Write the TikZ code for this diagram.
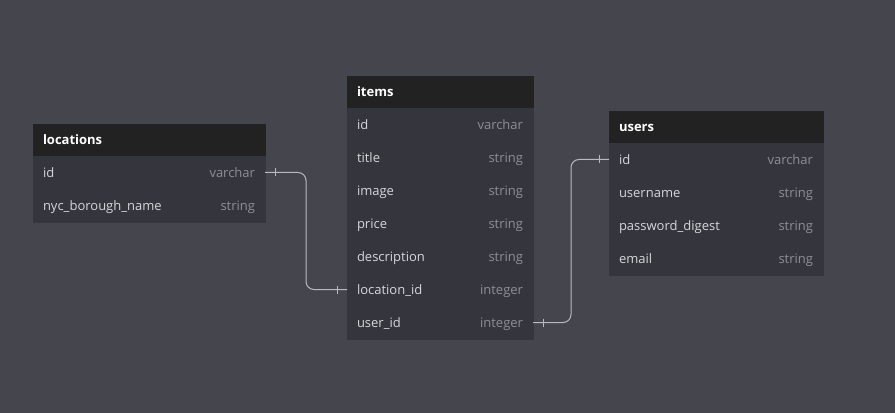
\documentclass[tikz,border=0pt]{standalone}
\usepackage{fontspec}
\setmainfont{Open Sans}
\usepackage{tikz}
\usetikzlibrary{positioning}
\definecolor{Canvas}{RGB}{69,69,77}
\definecolor{HeadFill}{RGB}{34,34,34}
\definecolor{BodyFill}{RGB}{53,53,61}
\definecolor{FieldText}{RGB}{214,214,218}
\definecolor{TypeText}{RGB}{142,142,148}
\definecolor{LinkGray}{RGB}{185,185,190}
\newcommand{\colname}[1]{\textcolor{FieldText}{#1}}
\newcommand{\coltype}[1]{\textcolor{TypeText}{#1}}

\begin{document}
\begin{tikzpicture}[
 x=0.75pt, y=-0.75pt,
 head/.style={anchor=north west, fill=HeadFill, draw=HeadFill, line width=0.3pt, outer sep=0pt, text=white, font=\bfseries\fontsize{9.75}{12}\selectfont, minimum height=24pt, inner sep=0pt, inner xsep=7.5pt, text width=#1, text height=8.5pt, text depth=1.5pt, align=left},
 row/.style={fill=BodyFill, draw=BodyFill, line width=0.3pt, outer sep=0pt, minimum height=24.75pt, inner sep=0pt, inner xsep=7.5pt, text width=#1, text height=8.5pt, text depth=1.5pt, font=\fontsize{9.75}{12}\selectfont},
 link/.style={draw=LinkGray, line width=0.75pt, rounded corners=6pt}
]
\fill[Canvas] (0,0) rectangle (895,413);

% locations
\node[head=159pt] (loc) at (33,124) {locations};
\node[row=159pt, below=0pt of loc] (loc-id) {\colname{id}\hfill\coltype{varchar}};
\node[row=159pt, below=0pt of loc-id] (loc-name) {\colname{nyc\_borough\_name}\hfill\coltype{string}};

% items
\node[head=124.5pt] (it) at (347,76) {items};
\node[row=124.5pt, below=0pt of it] (it-id) {\colname{id}\hfill\coltype{varchar}};
\node[row=124.5pt, below=0pt of it-id] (it-title) {\colname{title}\hfill\coltype{string}};
\node[row=124.5pt, below=0pt of it-title] (it-image) {\colname{image}\hfill\coltype{string}};
\node[row=124.5pt, below=0pt of it-image] (it-price) {\colname{price}\hfill\coltype{string}};
\node[row=124.5pt, below=0pt of it-price] (it-desc) {\colname{description}\hfill\coltype{string}};
\node[row=124.5pt, below=0pt of it-desc] (it-loc) {\colname{location\_id}\hfill\coltype{integer}};
\node[row=124.5pt, below=0pt of it-loc] (it-user) {\colname{user\_id}\hfill\coltype{integer}};

% users
\node[head=145.5pt] (us) at (609,111) {users};
\node[row=145.5pt, below=0pt of us] (us-id) {\colname{id}\hfill\coltype{varchar}};
\node[row=145.5pt, below=0pt of us-id] (us-name) {\colname{username}\hfill\coltype{string}};
\node[row=145.5pt, below=0pt of us-name] (us-pass) {\colname{password\_digest}\hfill\coltype{string}};
\node[row=145.5pt, below=0pt of us-pass] (us-mail) {\colname{email}\hfill\coltype{string}};

% relations
\draw[link] (loc-id.east) -- ++(30.75pt,0) |- (it-loc.west);
\draw[link] (it-user.east) -- ++(28.5pt,0) |- (us-id.west);
\draw[link] ([xshift=7.5pt]loc-id.east) ++(0,3pt) -- ++(0,-6pt);
\draw[link] ([xshift=-7.5pt]it-loc.west) ++(0,3pt) -- ++(0,-6pt);
\draw[link] ([xshift=7.5pt]it-user.east) ++(0,3pt) -- ++(0,-6pt);
\draw[link] ([xshift=-7.5pt]us-id.west) ++(0,3pt) -- ++(0,-6pt);
\end{tikzpicture}
\end{document}
